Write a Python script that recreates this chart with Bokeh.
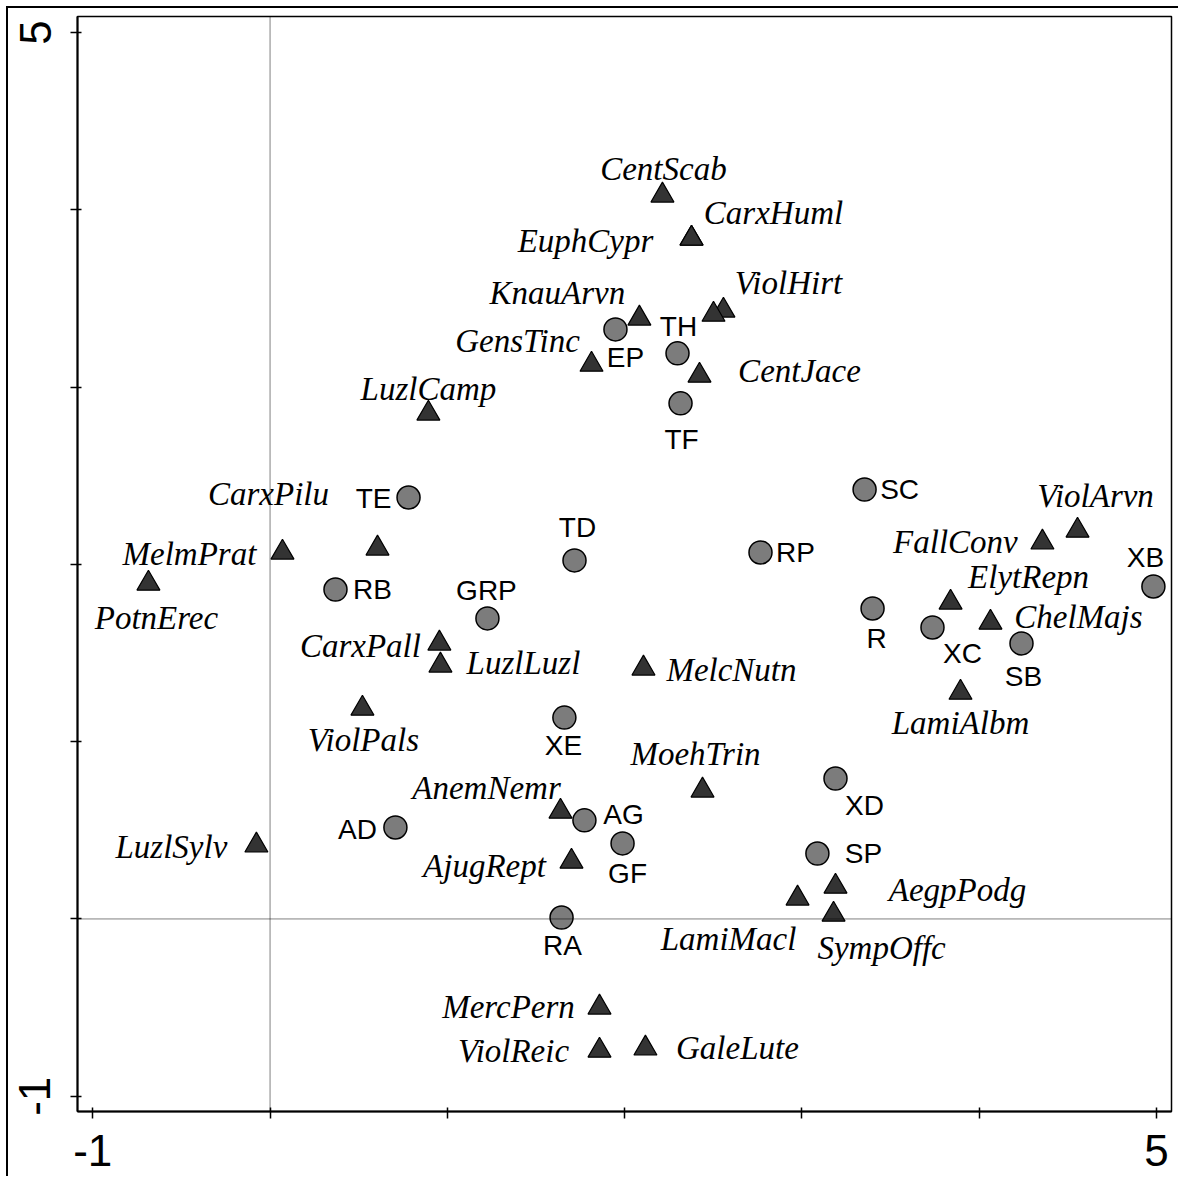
from bokeh.plotting import figure
from bokeh.models import ColumnDataSource, Span, FixedTicker
from bokeh.core.properties import value
from bokeh.embed import file_html
from bokeh.resources import INLINE

# ---- data: samples (circles) ----
sample_names = ["EP", "TH", "TF", "TE", "SC", "TD", "RP", "RB", "GRP", "XB",
                "R", "XC", "SB", "XE", "XD", "AD", "AG", "GF", "SP", "RA"]
sample_x = [1.948, 2.298, 2.315, 0.781, 3.353, 1.717, 2.766, 0.369, 1.226, 4.982,
            3.398, 3.736, 4.238, 1.660, 3.189, 0.707, 1.773, 1.988, 3.087, 1.644]
sample_y = [3.325, 3.190, 2.908, 2.377, 2.422, 2.022, 2.067, 1.858, 1.695, 1.875,
            1.751, 1.644, 1.554, 1.136, 0.792, 0.516, 0.556, 0.426, 0.369, 0.008]

# ---- data: species (triangles) ----
species_names = ["CentScab", "CarxHuml", "EuphCypr", "KnauArvn", "ViolHirt", "",
                 "GensTinc", "CentJace", "LuzlCamp", "CarxPilu", "MelmPrat",
                 "PotnErec", "CarxPall", "LuzlLuzl", "MelcNutn", "ViolPals",
                 "MoehTrin", "AnemNemr", "AjugRept", "LuzlSylv", "LamiMacl",
                 "AegpPodg", "SympOffc", "MercPern", "ViolReic", "GaleLute",
                 "FallConv", "ViolArvn", "ElytRepn", "ChelMajs", "LamiAlbm"]
species_x = [2.213, 2.377, 2.377, 2.083, 2.557, 2.501,
             1.813, 2.422, 0.893, 0.606, 0.070,
             -0.686, 0.955, 0.961, 2.106, 0.521,
             2.439, 1.638, 1.700, -0.077, 2.975,
             3.189, 3.178, 1.858, 1.858, 2.117,
             4.356, 4.554, 3.838, 4.063, 3.894]
species_y = [4.081, 3.838, 3.838, 3.387, 3.432, 3.409,
             3.127, 3.065, 2.851, 2.090, 2.067,
             1.892, 1.554, 1.430, 1.413, 1.187,
             0.725, 0.606, 0.324, 0.415, 0.116,
             0.183, 0.025, -0.499, -0.742, -0.730,
             2.124, 2.191, 1.785, 1.672, 1.277]

axis_ticks = [-1, 0, 1, 2, 3, 4, 5]
tick_labels = {-1: "-1", 0: "", 1: "", 2: "", 3: "", 4: "", 5: "5"}

# ---- label placement (screen pixels, layout only) ----
sample_dx = [10, 1, 1, -35, 35, 3, 35, 37, -1, -8, 4, 30, 2, -1, 29, -38, 39, 5, 46, 1]
sample_dy = [28, -27, 36, 1, 0, -33, 0, 0, -28, -29, 30, 26, 33, 28, 27, 2, -6, 30, 0, 28]
species_dx = [1, 82, -106, -82, 65, 0, -74, 100, 0, -109, -93, 8, -79, 83, 88, 1,
              -7, -74, -87, -85, -69, 122, 48, -91, -86, 92, -87, 18, 78, 88, 0]
species_dy = [-26, -25, 3, -25, -27, 0, -24, -5, -24, -54, 2, 34, 3, -2, 2, 32,
              -36, -24, 4, 2, 41, 3, 33, 0, 0, 0, 0, -34, -25, -6, 30]

samples = ColumnDataSource(dict(x=sample_x, y=sample_y, name=sample_names,
                                dx=sample_dx, dy=sample_dy))
species = ColumnDataSource(dict(x=species_x, y=species_y, name=species_names,
                                dx=species_dx, dy=species_dy))

p = figure(width=1172, height=1170, output_backend="svg", toolbar_location=None,
           x_range=(-1.086, 5.084), y_range=(-1.086, 5.090),
           min_border_left=69, min_border_right=9, min_border_top=8, min_border_bottom=67)
p.styles = {"position": "absolute", "left": "8px", "top": "8px",
            "box-shadow": "-2px -2px 0 0 black"}
p.xgrid.visible = False
p.ygrid.visible = False
p.outline_line_color = "black"
p.outline_line_width = 1.5
p.background_fill_color = "white"
p.border_fill_color = "white"

for ax in (p.xaxis[0], p.yaxis[0]):
    ax.ticker = FixedTicker(ticks=axis_ticks)
    ax.major_label_overrides = tick_labels
    ax.axis_line_width = 2
    ax.axis_line_color = "black"
    ax.major_tick_line_width = 1.5
    ax.major_tick_line_color = "black"
    ax.major_tick_in = 4
    ax.major_tick_out = 7
    ax.minor_tick_line_color = None
    ax.major_label_text_font = "Liberation Sans"
    ax.major_label_text_font_size = "44px"
    ax.major_label_text_color = "black"
p.xaxis.major_label_standoff = 16
p.yaxis.major_label_standoff = 20
p.yaxis.major_label_orientation = "vertical"

p.add_layout(Span(location=0, dimension="height", line_color="black",
                  line_width=1, line_dash="1 1"))
p.add_layout(Span(location=0, dimension="width", line_color="black",
                  line_width=1, line_dash="1 1"))

p.scatter("x", "y", source=species, marker="triangle", size=23,
          fill_color="#333333", line_color="black", line_width=1.2)
p.scatter("x", "y", source=samples, marker="circle", size=23,
          fill_color="#7c7c7c", line_color="black", line_width=1.5)

p.text("x", "y", text="name", source=species, x_offset="dx", y_offset="dy",
       text_font=value("Liberation Serif"), text_font_style="italic",
       text_font_size="33px", text_align="center", text_baseline="middle",
       text_color="black")
p.text("x", "y", text="name", source=samples, x_offset="dx", y_offset="dy",
       text_font=value("Liberation Sans"), text_font_size="28px",
       text_align="center", text_baseline="middle", text_color="black")

open("out.html", "w").write(file_html(p, INLINE))
